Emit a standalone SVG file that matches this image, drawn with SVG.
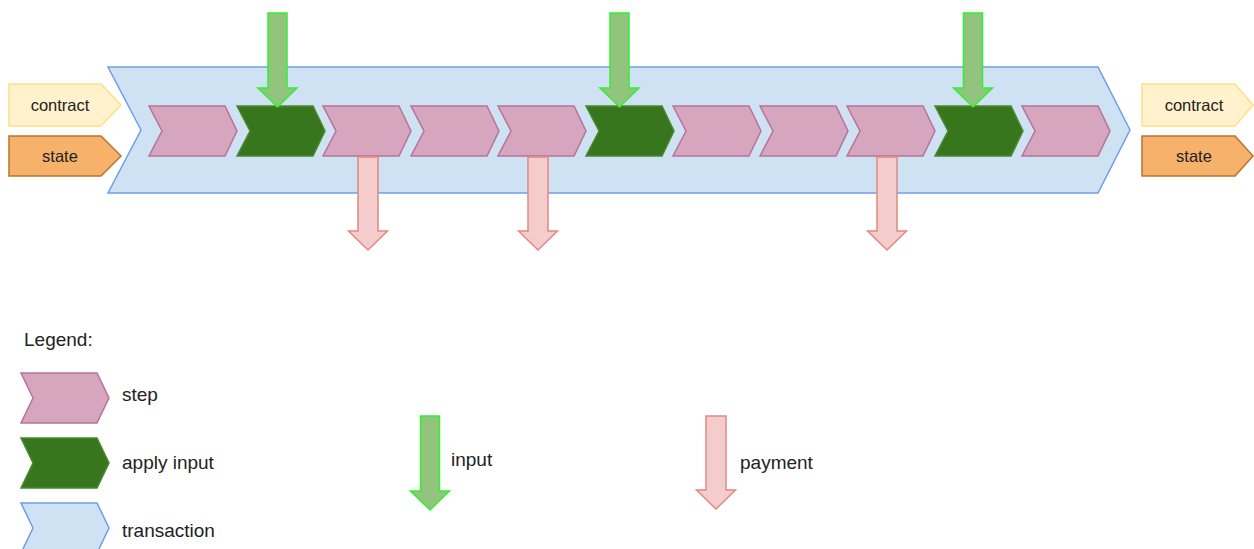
<svg xmlns="http://www.w3.org/2000/svg" width="1254" height="549" viewBox="0 0 1254 549">
<style>
.step{fill:#d5a6bd;stroke:#b7739a;stroke-width:1.5}
.apply{fill:#38761d;stroke:#4a8a2e;stroke-width:1.5}
.tx{fill:#cfe2f3;stroke:#6d9eeb;stroke-width:1.5}
.contract{fill:#fff2cc;stroke:#ffe083;stroke-width:1.5}
.state{fill:#f6b26b;stroke:#b8732f;stroke-width:1.5}
.in{fill:#93c47d;stroke:#33ee33;stroke-width:1.5}
.pay{fill:#f4cccc;stroke:#e08a80;stroke-width:1.5}
text{font-family:"Liberation Sans",Arial,sans-serif;fill:#222}
.lbl{font-size:16.5px;text-anchor:middle}
.leg{font-size:19px}
</style>
<defs>
<path id="stepShape" d="M0,0 H76 L88,25 L76,50 H0 L13,25 Z"/>
<path id="inArrow" d="M-9.5,0 H9.5 V75 H19.5 L0,94 L-19.5,75 H-9.5 Z"/>
<path id="payArrow" d="M-10,0 H10 V74 H19.5 L0,93 L-19.5,74 H-10 Z"/>
</defs>
<g id="transaction"><path class="tx" d="M108,67 H1098 L1130,130 L1098,193 H108 L141,130 Z"/></g>
<g id="contract-in"><path class="contract" d="M9,84 H101 L121,105 L101,126 H9 Z"/><text class="lbl" x="60" y="111">contract</text></g>
<g id="state-in"><path class="state" d="M9,136 H101 L121,156 L101,176 H9 Z"/><text class="lbl" x="60" y="162">state</text></g>
<g id="contract-out"><path class="contract" d="M1142,84 H1235 L1253,105 L1235,126 H1142 Z"/><text class="lbl" x="1194" y="111">contract</text></g>
<g id="state-out"><path class="state" d="M1142,136 H1235 L1253,156 L1235,176 H1142 Z"/><text class="lbl" x="1194" y="162">state</text></g>
<g id="step1"><use href="#stepShape" class="step" x="149" y="106"/></g>
<g id="step2"><use href="#stepShape" class="apply" x="237" y="106"/></g>
<g id="step3"><use href="#stepShape" class="step" x="323" y="106"/></g>
<g id="step4"><use href="#stepShape" class="step" x="411" y="106"/></g>
<g id="step5"><use href="#stepShape" class="step" x="498" y="106"/></g>
<g id="step6"><use href="#stepShape" class="apply" x="586" y="106"/></g>
<g id="step7"><use href="#stepShape" class="step" x="673" y="106"/></g>
<g id="step8"><use href="#stepShape" class="step" x="760" y="106"/></g>
<g id="step9"><use href="#stepShape" class="step" x="847" y="106"/></g>
<g id="step10"><use href="#stepShape" class="apply" x="935" y="106"/></g>
<g id="step11"><use href="#stepShape" class="step" x="1022" y="106"/></g>
<g id="connectors">
<use href="#inArrow" class="in" x="277.5" y="13"/>
<use href="#inArrow" class="in" x="619.5" y="13"/>
<use href="#inArrow" class="in" x="973" y="13"/>
<use href="#payArrow" class="pay" x="368" y="157"/>
<use href="#payArrow" class="pay" x="538" y="157"/>
<use href="#payArrow" class="pay" x="887" y="157"/>
</g>
<g id="legend">
<text class="leg" x="24" y="346">Legend:</text>
<path class="step" d="M21,373 H97 L109,398 L97,423 H21 L33,398 Z"/>
<text class="leg" x="122" y="401">step</text>
<path class="apply" d="M21,438 H97 L109,463 L97,488 H21 L33,463 Z"/>
<text class="leg" x="122" y="469">apply input</text>
<path class="tx" d="M21,503 H97 L109,528 L97,553 H21 L33,528 Z"/>
<text class="leg" x="122" y="537">transaction</text>
<use href="#inArrow" class="in" x="430" y="416"/>
<text class="leg" x="451" y="466">input</text>
<use href="#payArrow" class="pay" x="716" y="416"/>
<text class="leg" x="740" y="469">payment</text>
</g>
</svg>
